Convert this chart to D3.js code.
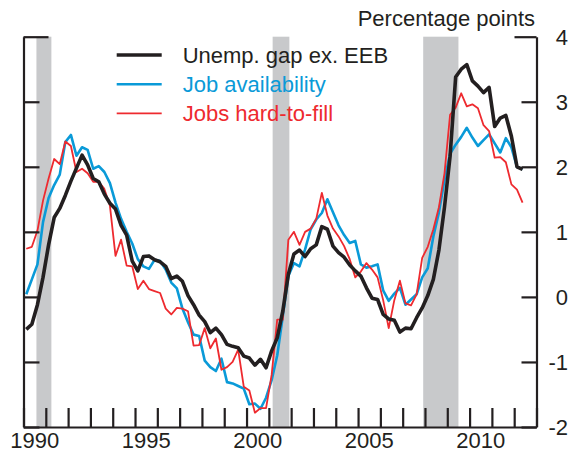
<!DOCTYPE html>
<html>
  <head>
    <title>Unemployment gap</title>
    <meta charset="utf-8">
    <script src='https://d3js.org/d3.v7.min.js'></script>
    <style>
      body { margin: 0; background: #fff; }
      text { font-family: "Liberation Sans", Arial, Helvetica, sans-serif; }
    </style>
  </head>
  <body>
  <script>

    // quarterly, 1990Q1 .. 2012Q2
    var unempGap = [
      -0.50, -0.42, -0.12, 0.30, 0.80, 1.22, 1.36, 1.56, 1.78, 1.98,
      2.18, 2.03, 1.82, 1.77, 1.58, 1.44, 1.35, 1.10, 0.95, 0.55,
      0.40, 0.62, 0.63, 0.57, 0.54, 0.47, 0.28, 0.32, 0.24, 0.02,
      -0.12, -0.28, -0.38, -0.55, -0.48, -0.58, -0.73, -0.76, -0.78, -0.91,
      -0.94, -1.05, -0.96, -1.09, -0.83, -0.63, -0.22, 0.35, 0.66, 0.72,
      0.62, 0.74, 0.80, 1.08, 1.04, 0.78, 0.68, 0.61, 0.49, 0.40,
      0.32, 0.14, -0.02, -0.04, -0.27, -0.34, -0.36, -0.54, -0.48, -0.49,
      -0.32, -0.17, 0.02, 0.27, 0.72, 1.38, 2.16, 3.38, 3.50, 3.57,
      3.32, 3.24, 3.14, 3.22, 2.62, 2.75, 2.79, 2.47, 2.00, 1.96
    ];
    var jobAvail = [
      0.04, 0.27, 0.50, 1.15, 1.52, 1.72, 1.88, 2.38, 2.49, 2.17,
      2.30, 2.26, 1.97, 2.01, 1.92, 1.75, 1.45, 1.20, 1.00, 0.82,
      0.58, 0.47, 0.43, 0.57, 0.55, 0.42, 0.22, 0.13, -0.18, -0.39,
      -0.58, -0.60, -0.98, -1.08, -1.14, -0.95, -1.31, -1.33, -1.37, -1.41,
      -1.65, -1.64, -1.72, -1.55, -1.28, -0.90, -0.30, 0.32, 0.52, 0.47,
      0.73, 1.04, 1.19, 1.29, 1.50, 1.30, 1.10, 0.95, 0.83, 0.86,
      0.50, 0.45, 0.47, 0.50, 0.10, -0.06, 0.05, 0.14, -0.12, -0.04,
      0.04, 0.30, 0.44, 0.93, 1.30, 1.80, 2.20, 2.34, 2.46, 2.60,
      2.45, 2.32, 2.41, 2.50, 2.36, 2.22, 2.44, 2.30, 2.00, 1.96
    ];
    var hardToFill = [
      0.74, 0.77, 1.02, 1.48, 1.82, 2.12, 2.04, 2.39, 2.32, 1.92,
      1.97, 1.90, 1.77, 1.77, 1.66, 1.40, 0.63, 0.88, 0.48, 0.47,
      0.12, 0.25, 0.12, 0.09, 0.06, -0.18, -0.27, -0.17, -0.18, -0.22,
      -0.75, -0.74, -0.48, -0.79, -0.64, -1.12, -1.08, -1.00, -0.81, -1.38,
      -1.44, -1.78, -1.71, -1.71, -1.20, -0.35, -0.35, 0.88, 1.00, 0.80,
      1.00, 1.05, 1.20, 1.60, 1.25, 1.05, 0.93, 0.78, 0.58, 0.30,
      0.39, 0.52, 0.42, 0.30, -0.05, -0.48, -0.05, 0.25, -0.10, -0.13,
      0.04, 0.60, 0.77, 1.04, 1.38, 1.90, 2.80, 2.91, 3.13, 2.93,
      2.96, 2.90, 2.64, 2.55, 2.14, 2.15, 2.07, 1.73, 1.65, 1.45
    ];
    var quarters = d3.range(unempGap.length).map(function(i) { return 1990 + i / 4 + 0.125; });

    var recessions = [[1990.58, 1991.25], [2001.17, 2001.92], [2007.92, 2009.5]];
    var yTicks = [-2, -1, 0, 1, 2, 3, 4];
    var yLabels = ["-2", "-1", "0", "1", "2", "3", "4"];
    var yearTicks = d3.range(1990, 2014);
    var yearLabels = [1990, 1995, 2000, 2005, 2010];

    var series = [
      {name: "Unemp. gap ex. EEB", values: unempGap, color: "#231f20", width: 3.6},
      {name: "Job availability", values: jobAvail, color: "#0a9ad8", width: 2.6},
      {name: "Jobs hard-to-fill", values: hardToFill, color: "#ee2a2f", width: 1.8}
    ];

    var width = 580, height = 453;
    var mLeft = 23.5, mRight = 536.5, mTop = 36.7, mBottom = 427;
    var fontSize = '22px';

    var x = d3.scaleLinear().domain([1990, 2013]).range([mLeft, mRight]);
    var y = d3.scaleLinear().domain([-2, 4]).range([mBottom, mTop]);

    var svg = d3.select('body').append('svg')
      .attr('width', width)
      .attr('height', height);

    svg.selectAll('.rec')
      .data(recessions)
      .enter().append('rect')
      .attr('class', 'rec')
      .attr('x', function(d) { return x(d[0]); })
      .attr('width', function(d) { return x(d[1]) - x(d[0]); })
      .attr('y', mTop)
      .attr('height', mBottom - mTop)
      .style('fill', '#c8c9cb');

    var line = d3.line()
      .x(function(d, i) { return x(quarters[i]); })
      .y(function(d) { return y(d); });

    // draw order: blue, red, black on top
    [1, 2, 0].forEach(function(k) {
      var s = series[k];
      svg.append('path')
        .datum(s.values)
        .attr('d', line)
        .style('fill', 'none')
        .style('stroke', s.color)
        .style('stroke-width', s.width)
        .style('stroke-linejoin', 'round');
    });

    // axes
    var axisColor = '#231f20';
    var leftAxis = svg.append('g')
      .attr('transform', 'translate(' + mLeft + ',0)')
      .call(d3.axisRight(y).tickValues(yTicks).tickSize(16).tickSizeOuter(0).tickFormat(''));
    var rightAxis = svg.append('g')
      .attr('transform', 'translate(' + mRight + ',0)')
      .call(d3.axisLeft(y).tickValues(yTicks).tickSize(15).tickSizeOuter(0).tickFormat(''));
    var bottomAxis = svg.append('g')
      .attr('transform', 'translate(0,' + mBottom + ')')
      .call(d3.axisTop(x).tickValues(yearTicks).tickSize(19).tickSizeOuter(0).tickFormat(''));

    [leftAxis, rightAxis, bottomAxis].forEach(function(a) {
      a.selectAll('path, line').style('stroke', axisColor).style('stroke-width', 2.2);
    });
    leftAxis.selectAll('.tick').filter(function(d) { return d === 4; }).select('line').attr('x2', 25);
    rightAxis.selectAll('.tick').filter(function(d) { return d === 4; }).select('line').attr('x2', -22);

    svg.selectAll('.ylab')
      .data(yTicks)
      .enter().append('text')
      .attr('class', 'ylab')
      .attr('x', 568)
      .attr('y', function(d) { return y(d) + 8; })
      .attr('text-anchor', 'end')
      .style('font-size', fontSize)
      .style('fill', axisColor)
      .text(function(d, i) { return yLabels[i]; });

    svg.selectAll('.xlab')
      .data(yearLabels)
      .enter().append('text')
      .attr('class', 'xlab')
      .attr('x', function(d) { return x(d + 0.5); })
      .attr('y', 448)
      .attr('text-anchor', 'middle')
      .style('font-size', fontSize)
      .style('fill', axisColor)
      .text(function(d) { return d; });

    svg.append('text')
      .attr('x', 535)
      .attr('y', 26)
      .attr('text-anchor', 'end')
      .style('font-size', fontSize)
      .style('fill', axisColor)
      .text('Percentage points');

    // legend
    var legend = svg.selectAll('.leg')
      .data(series)
      .enter().append('g')
      .attr('class', 'leg')
      .attr('transform', function(d, i) { return 'translate(0,' + (55 + i * 29.2) + ')'; });
    legend.append('line')
      .attr('x1', 116.7).attr('x2', 161.7)
      .style('stroke', function(d) { return d.color; })
      .style('stroke-width', function(d) { return d.width; });
    legend.append('text')
      .attr('x', 182.7)
      .attr('y', 8)
      .style('font-size', fontSize)
      .style('fill', function(d) { return d.color; })
      .text(function(d) { return d.name; });

  </script>
  </body>
</html>
